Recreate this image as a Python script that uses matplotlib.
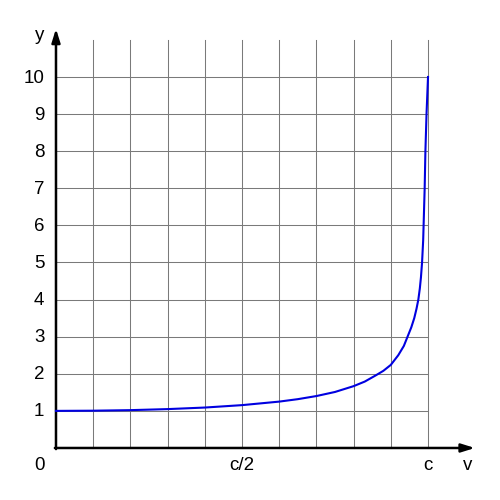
import matplotlib
matplotlib.use("Agg")
import matplotlib.pyplot as plt

# speed as a fraction of c, and the factor y
v_frac = [0.0, 0.1, 0.2, 0.3, 0.4, 0.5, 0.6, 0.65, 0.7, 0.75, 0.8, 0.83,
          0.86, 0.88, 0.9, 0.92, 0.935, 0.945, 0.955, 0.963, 0.969, 0.974,
          0.978, 0.981, 0.984, 0.987, 0.989, 0.991, 0.993, 0.996, 1.0]
gamma = [1.0, 1.005, 1.02, 1.048, 1.09, 1.155, 1.25, 1.316, 1.4, 1.51,
         1.667, 1.79, 1.96, 2.08, 2.24, 2.5, 2.75, 3.0, 3.25, 3.5, 3.75, 4.0,
         4.3, 4.6, 5.0, 5.6, 6.3, 7.0, 8.0, 9.0, 10.0]

x_grid = [0.1 * i for i in range(1, 11)]
y_ticks = list(range(1, 11))
x_labels = [(0.5, "c/2"), (1.0, "c")]

plt.rcParams["font.family"] = ["Liberation Sans", "DejaVu Sans"]

fig = plt.figure(figsize=(5, 5), dpi=100)
ax = fig.add_axes([0, 0, 1, 1])
ax.set_xlim(-0.1505, 1.1935)
ax.set_ylim(-1.402, 12.075)
ax.axis("off")

grid_top = 11.0
for xv in x_grid:
    ax.plot([xv, xv], [0, grid_top], color="#7a7a7a", lw=0.75, zorder=1)
for yv in y_ticks:
    ax.plot([0, 1.0], [yv, yv], color="#7a7a7a", lw=0.75, zorder=1)

# axes with arrow heads
head = "-|>,head_length=0.8,head_width=0.25"
ax.annotate("", xy=(1.126, 0), xytext=(-0.003, 0),
            arrowprops=dict(arrowstyle=head, color="black", lw=1.8,
                            shrinkA=0, shrinkB=0), zorder=3)
ax.annotate("", xy=(0, 11.3), xytext=(0, -0.03),
            arrowprops=dict(arrowstyle=head, color="black", lw=1.8,
                            shrinkA=0, shrinkB=0), zorder=3)

ax.plot(v_frac, gamma, color="#0000e0", lw=1.5, zorder=4)

fs = 13.5
for yv in y_ticks:
    ax.text(-0.031, yv - 0.03, str(yv), ha="right", va="center", fontsize=fs)
ax.text(-0.045, -0.47, "0", ha="center", va="center", fontsize=fs)
for xv, lab in x_labels:
    ax.text(xv, -0.47, lab, ha="center", va="center", fontsize=fs)
ax.text(1.107, -0.47, "v", ha="center", va="center", fontsize=fs)
ax.text(-0.045, 11.12, "y", ha="center", va="center", fontsize=fs)

fig.savefig("out.png", dpi=100)
